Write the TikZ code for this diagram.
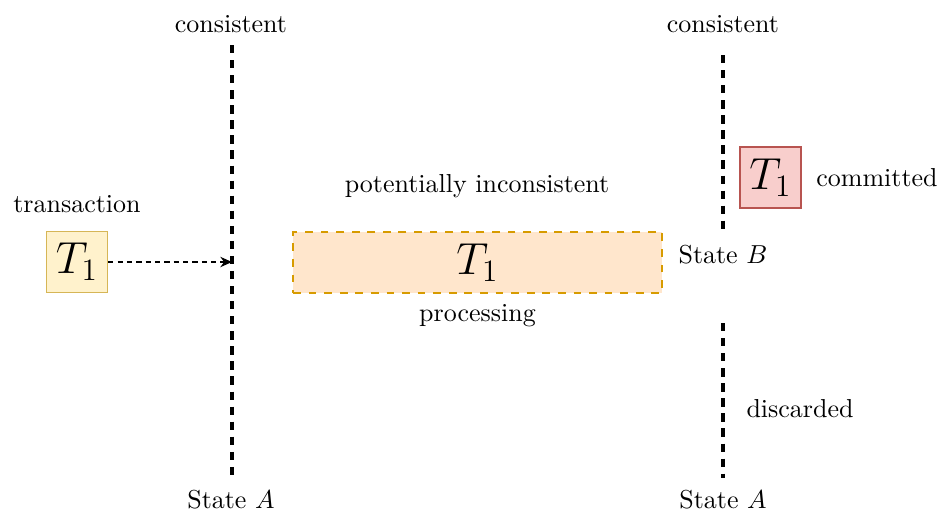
\documentclass[tikz,border=0pt]{standalone}
\usetikzlibrary{positioning,arrows.meta}

\definecolor{txfill}{HTML}{FFF2CC}
\definecolor{txdraw}{HTML}{D6B656}
\definecolor{procfill}{HTML}{FFE6CC}
\definecolor{procdraw}{HTML}{D79B00}
\definecolor{commfill}{HTML}{F8CECC}
\definecolor{commdraw}{HTML}{B85450}

\begin{document}
\begin{tikzpicture}[
    x=0.385pt, y=-0.385pt,
    txbox/.style={draw, line width=0.6pt, minimum width=61*0.385pt, minimum height=61*0.385pt, inner sep=0pt, font=\LARGE},
    statelabel/.style={inner sep=1pt},
    timeline/.style={line width=1.2pt, dash pattern=on 3.2pt off 2.6pt}
  ]
    \useasboundingbox (0,0) rectangle (943,514);

    % State timelines
    \coordinate (lefttop) at (232,45);
    \coordinate (leftbot) at (232,480);
    \coordinate (leftmid) at (232,262);
    \coordinate (uptop) at (723,55);
    \coordinate (upbot) at (723,235);
    \coordinate (lowtop) at (723,323);
    \coordinate (lowbot) at (723,478);
    \draw[timeline] (lefttop) -- (leftbot);
    \draw[timeline] (uptop) -- (upbot);
    \draw[timeline] (lowtop) -- (lowbot);

    \node[statelabel] (consleft) at (231,24) {consistent};
    \node[statelabel] (consright) at (723,24) {consistent};
    \node[statelabel] (statealeft) at (231,500) {State $A$};
    \node[statelabel] (statearight) at (723,500) {State $A$};
    \node[statelabel] (stateb) at (723,255) {State $B$};

    % Incoming transaction
    \node[txbox, fill=txfill, draw=txdraw] (txin) at (77,262) {$T_1$};
    \node[above=0.12cm of txin] (txlabel) {transaction};
    \draw[dashed, dash pattern=on 2pt off 1.6pt, -{Stealth[length=4.5pt, width=4pt]}] (txin.east) -- (leftmid);

    % Processing
    \node[draw=procdraw, fill=procfill, line width=0.6pt, dashed, minimum width=369*0.385pt, minimum height=61*0.385pt, inner sep=0pt, font=\LARGE] (proc) at (477.5,262.5) {$T_1$};
    \node (potlabel) at (477,186) {potentially inconsistent};
    \node[below=0.02cm of proc] (proclabel) {processing};

    % Outcomes
    \node[txbox, fill=commfill, draw=commdraw] (txcomm) at (770.5,177.5) {$T_1$};
    \node (commlabel) at (877,178) {committed};
    \node (disclabel) at (800,409) {discarded};
  \end{tikzpicture}
\end{document}
